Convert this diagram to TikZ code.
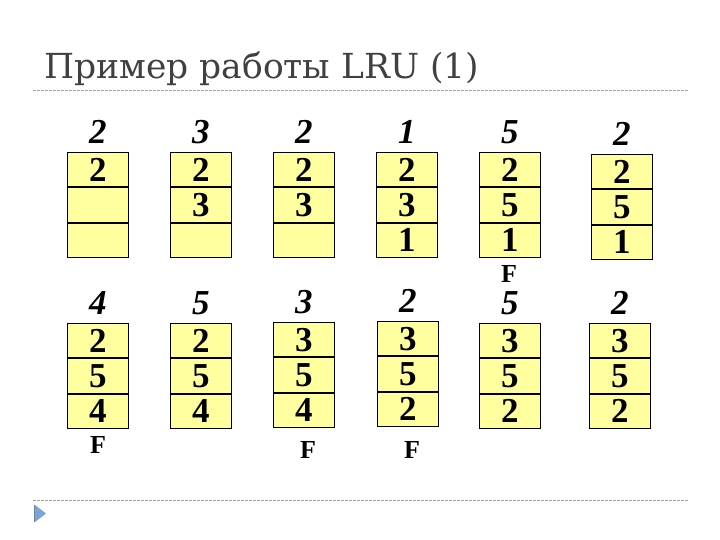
\documentclass[tikz,border=0pt]{standalone}
\usepackage{fontspec}
\setmainfont{Liberation Serif}
\newfontfamily\titlefont{DejaVu Serif}
\definecolor{cellyellow}{RGB}{255,255,160}
\definecolor{titlegray}{RGB}{64,64,64}
\definecolor{rulegray}{RGB}{160,160,160}
\definecolor{bulletblue}{RGB}{120,165,215}
\tikzset{
  cell/.style={draw=black, line width=0.9pt, fill=cellyellow, minimum width=61pt, minimum height=34.4pt, inner sep=0pt, font=\fontsize{35}{35}\selectfont\bfseries},
  reflabel/.style={inner sep=0pt, font=\fontsize{35}{35}\selectfont\bfseries\itshape},
  fault/.style={inner sep=0pt, font=\fontsize{26}{26}\selectfont\bfseries},
  rule/.style={draw=rulegray, line width=0.7pt, dash pattern=on 3pt off 1pt}
}
\newcommand{\pframe}[7]{%
  % #1 name, #2 left x, #3 top y, #4 ref label, #5 #6 #7 cell values
  \node[cell, anchor=north west] (#1a) at (#2,#3) {#5};
  \node[cell, anchor=north] (#1b) at (#1a.south) {#6};
  \node[cell, anchor=north] (#1c) at (#1b.south) {#7};
  \node[reflabel] (#1l) at ($(#1a.north)+(0,-20)$) {#4};
}
\usetikzlibrary{calc}
\begin{document}
\begin{tikzpicture}[x=1pt,y=-1pt]
\useasboundingbox (0,0) rectangle (720,540);
\node[anchor=base west, inner sep=0pt, text=titlegray, font=\titlefont\fontsize{34.5}{34.5}\selectfont] (title) at (44,79) {Пример работы LRU (1)};
\coordinate (r1a) at (33,90); \coordinate (r1b) at (688,90);
\draw[rule] (r1a) -- (r1b);
\coordinate (r2a) at (33,500); \coordinate (r2b) at (688,500);
\draw[rule] (r2a) -- (r2b);
\fill[bulletblue] (35,505) -- (46,513.5) -- (35,522) -- cycle;
\draw[gray, line width=0.8pt] (34.5,505) -- (34.5,522);

\pframe{a}{67}{152}{2}{2}{}{}
\pframe{b}{170}{152}{3}{2}{3}{}
\pframe{c}{273}{152}{2}{2}{3}{}
\pframe{d}{376}{152}{1}{2}{3}{1}
\pframe{e}{479}{152}{5}{2}{5}{1}
\pframe{f}{591}{154}{2}{2}{5}{1}

\pframe{g}{67}{323}{4}{2}{5}{4}
\pframe{h}{170}{323}{5}{2}{5}{4}
\pframe{i}{273}{322}{3}{3}{5}{4}
\pframe{j}{377}{321}{2}{3}{5}{2}
\pframe{k}{479}{323}{5}{3}{5}{2}
\pframe{m}{589}{323}{2}{3}{5}{2}

\node[fault] (fe) at (509,274) {F};
\node[fault] (fg) at (98,445) {F};
\node[fault] (fi) at (308,450) {F};
\node[fault] (fj) at (412,450) {F};
\end{tikzpicture}
\end{document}
